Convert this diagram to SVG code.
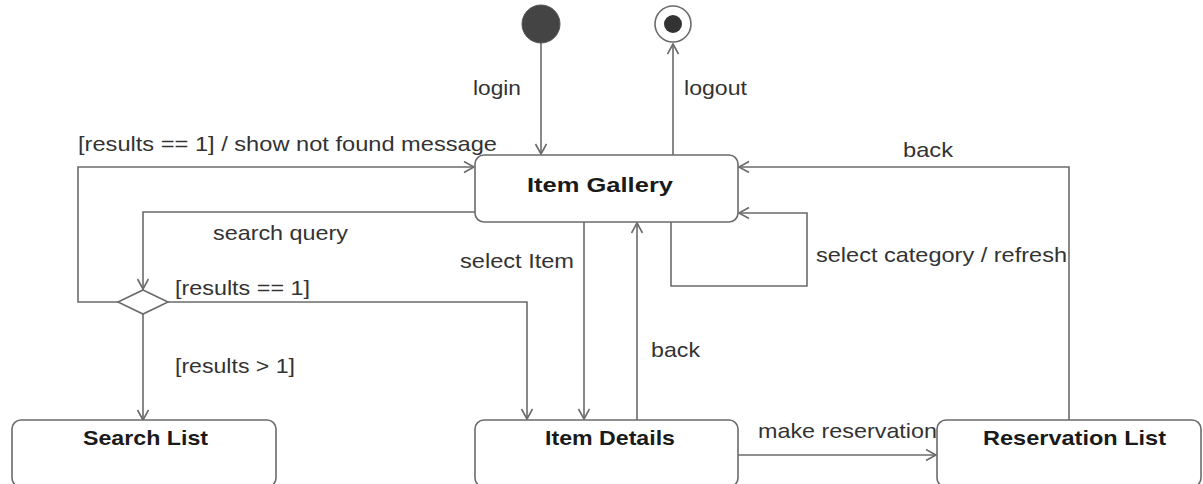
<svg xmlns="http://www.w3.org/2000/svg" width="1203" height="484" viewBox="0 0 1203 484">
<style>
.box{fill:#fff;stroke:#6b6b6b;stroke-width:1.6}
.ln{fill:none;stroke:#6b6b6b;stroke-width:1.6}
.lbl{font-family:"Liberation Sans",Arial,sans-serif;font-size:21px;fill:#333}
.ttl{font-family:"Liberation Sans",Arial,sans-serif;font-size:21px;font-weight:bold;fill:#1a1a1a}
</style>
<defs>
<marker id="arr" markerUnits="userSpaceOnUse" markerWidth="14" markerHeight="14" refX="11" refY="6" orient="auto">
<path d="M1,0.5 L11,6 L1,11.5" fill="none" stroke="#6b6b6b" stroke-width="1.6"/>
</marker>
</defs>
<rect width="1203" height="484" fill="#fff"/>
<g id="connectors">
<path class="ln" d="M541,43 L541,154" marker-end="url(#arr)"/>
<path class="ln" d="M673,155 L673,44" marker-end="url(#arr)"/>
<path class="ln" d="M475,212 L143,212 L143,289" marker-end="url(#arr)"/>
<path class="ln" d="M118,302 L78,302 L78,167 L474,167" marker-end="url(#arr)"/>
<path class="ln" d="M168,302 L527,302 L527,419" marker-end="url(#arr)"/>
<path class="ln" d="M143,314 L143,420" marker-end="url(#arr)"/>
<path class="ln" d="M584,222 L584,419" marker-end="url(#arr)"/>
<path class="ln" d="M637,420 L637,223" marker-end="url(#arr)"/>
<path class="ln" d="M671,222 L671,286 L807,286 L807,213 L739,213" marker-end="url(#arr)"/>
<path class="ln" d="M1069,420 L1069,167 L739,167" marker-end="url(#arr)"/>
<path class="ln" d="M738,455 L936,455" marker-end="url(#arr)"/>
</g>
<g id="labels">
<text class="lbl" x="473" y="95" textLength="48" lengthAdjust="spacingAndGlyphs">login</text>
<text class="lbl" x="684" y="95" textLength="63" lengthAdjust="spacingAndGlyphs">logout</text>
<text class="lbl" x="78" y="151" textLength="419" lengthAdjust="spacingAndGlyphs">[results == 1] / show not found message</text>
<text class="lbl" x="213" y="240" textLength="135" lengthAdjust="spacingAndGlyphs">search query</text>
<text class="lbl" x="175" y="295" textLength="135" lengthAdjust="spacingAndGlyphs">[results == 1]</text>
<text class="lbl" x="175" y="373" textLength="120" lengthAdjust="spacingAndGlyphs">[results &gt; 1]</text>
<text class="lbl" x="460" y="268" textLength="114" lengthAdjust="spacingAndGlyphs">select Item</text>
<text class="lbl" x="651" y="357" textLength="49" lengthAdjust="spacingAndGlyphs">back</text>
<text class="lbl" x="903" y="157" textLength="50" lengthAdjust="spacingAndGlyphs">back</text>
<text class="lbl" x="816" y="262" textLength="251" lengthAdjust="spacingAndGlyphs">select category / refresh</text>
<text class="lbl" x="758" y="438" textLength="179" lengthAdjust="spacingAndGlyphs">make reservation</text>
</g>
<g id="initial">
<circle cx="541" cy="24" r="19" fill="#444" stroke="#555" stroke-width="1"/>
</g>
<g id="final">
<circle cx="673" cy="24" r="18" fill="#fff" stroke="#6b6b6b" stroke-width="1.6"/>
<circle cx="673" cy="24" r="9" fill="#333"/>
</g>
<g id="decision">
<polygon class="box" points="143,290 168,302 143,314 118,302"/>
</g>
<g id="item-gallery">
<rect class="box" x="475" y="155" width="263" height="67" rx="9"/>
<text class="ttl" x="527" y="192" textLength="146" lengthAdjust="spacingAndGlyphs">Item Gallery</text>
</g>
<g id="search-list">
<rect class="box" x="12" y="420" width="264" height="67" rx="9"/>
<text class="ttl" x="83" y="445" textLength="125" lengthAdjust="spacingAndGlyphs">Search List</text>
</g>
<g id="item-details">
<rect class="box" x="475" y="420" width="263" height="67" rx="9"/>
<text class="ttl" x="545" y="445" textLength="130" lengthAdjust="spacingAndGlyphs">Item Details</text>
</g>
<g id="reservation-list">
<rect class="box" x="937" y="420" width="264" height="67" rx="9"/>
<text class="ttl" x="983" y="445" textLength="183" lengthAdjust="spacingAndGlyphs">Reservation List</text>
</g>
</svg>
